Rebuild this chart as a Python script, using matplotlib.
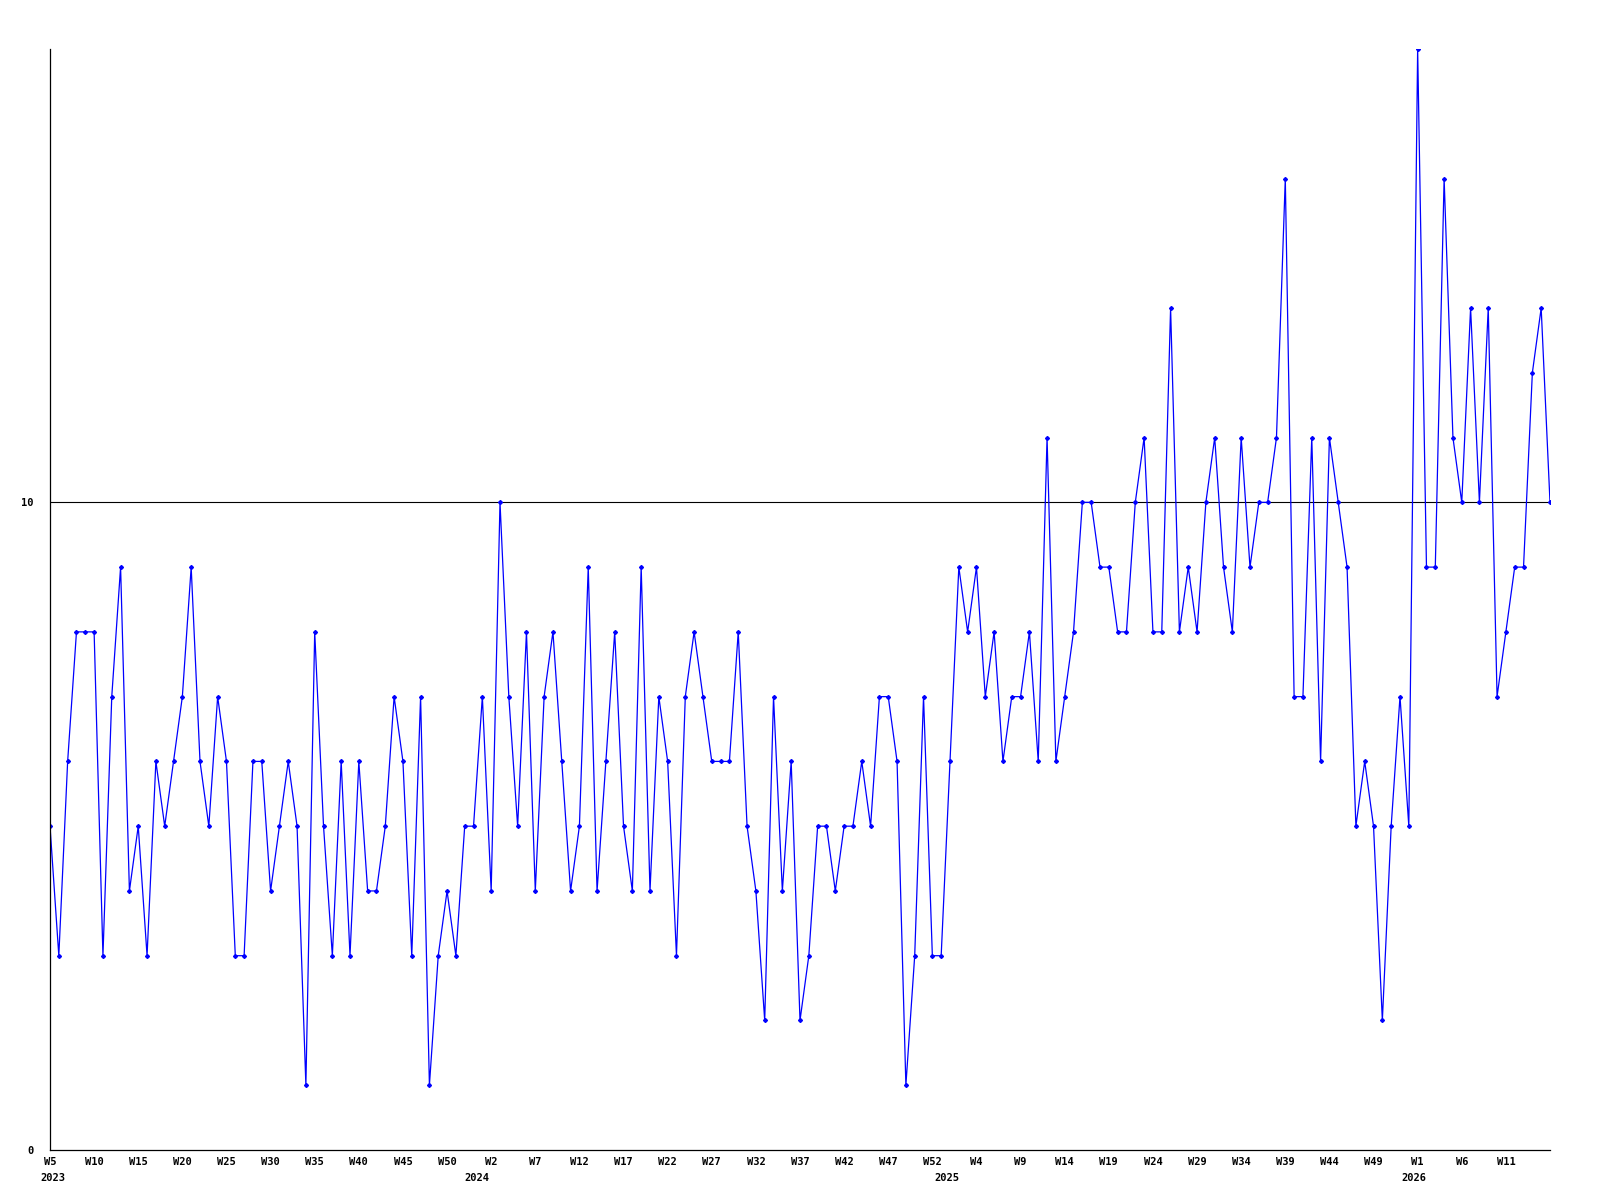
import matplotlib
matplotlib.use('Agg')
import matplotlib.pyplot as plt

# weekly counts, 2023 W5 .. 2026 W15
values = [5, 3, 6, 8, 8, 8, 3, 7, 9, 4, 5, 3, 6, 5, 6, 7, 9, 6, 5, 7, 6, 3, 3, 6, 6, 4,
          5, 6, 5, 1, 8, 5, 3, 6, 3, 6, 4, 4, 5, 7, 6, 3, 7, 1, 3, 4, 3, 5, 5,
          7, 4, 10, 7, 5, 8, 4, 7, 8, 6, 4, 5, 9, 4, 6, 8, 5, 4, 9, 4, 7, 6, 3, 7,
          8, 7, 6, 6, 6, 8, 5, 4, 2, 7, 4, 6, 2, 3, 5, 5, 4, 5, 5, 6, 5, 7, 7, 6,
          1, 3, 7, 3, 3, 6, 9, 8, 9, 7, 8, 6, 7, 7, 8, 6, 11, 6, 7, 8, 10, 10, 9, 9,
          8, 8, 10, 11, 8, 8, 13, 8, 9, 8, 10, 11, 9, 8, 11, 9, 10, 10, 11, 15, 7, 7, 11, 6,
          11, 10, 9, 5, 6, 5, 2, 5, 7, 5, 17, 9, 9, 15, 11, 10, 13, 10, 13, 7, 8, 9, 9, 12, 13, 10]

week_labels = ['W5', 'W10', 'W15', 'W20', 'W25', 'W30', 'W35', 'W40', 'W45', 'W50',
               'W2', 'W7', 'W12', 'W17', 'W22', 'W27', 'W32', 'W37', 'W42', 'W47',
               'W52', 'W4', 'W9', 'W14', 'W19', 'W24', 'W29', 'W34', 'W39', 'W44',
               'W49', 'W1', 'W6', 'W11']
years = ['2023', '2024', '2025', '2026']
year_pos = [0.35, 48.4, 101.6, 154.6]

font = dict(family='DejaVu Sans Mono', weight='bold', size=7.5)

fig = plt.figure(figsize=(16, 12), dpi=100)
ax = fig.add_axes([50 / 1600, 50 / 1200, 1500 / 1600, 1101 / 1200])

x = list(range(len(values)))
ax.plot(x, values, color='#0000ff', lw=0.9, marker='D', ms=2.0, mec='#0000ff', mfc='#0000ff')
ax.axhline(10, color='black', lw=0.8, zorder=0)

ax.set_xlim(0, len(values) - 1)
ax.set_ylim(0, 17)

for s in ['top', 'right']:
    ax.spines[s].set_visible(False)
for s in ['left', 'bottom']:
    ax.spines[s].set_color('black')
    ax.spines[s].set_linewidth(0.9)

ax.set_xticks(range(0, 5 * len(week_labels), 5))
ax.set_xticklabels(week_labels, **font)
ax.set_yticks([0, 10])
ax.set_yticklabels(['0', '10'], **font)
ax.tick_params(axis='x', length=0, pad=5)
ax.tick_params(axis='y', length=0, pad=12)

for y, p in zip(years, year_pos):
    ax.annotate(y, xy=(p, 0), xycoords=('data', 'axes fraction'),
                xytext=(0, -16.5), textcoords='offset points',
                ha='center', va='top', **font)

fig.savefig('out.png', dpi=100)
